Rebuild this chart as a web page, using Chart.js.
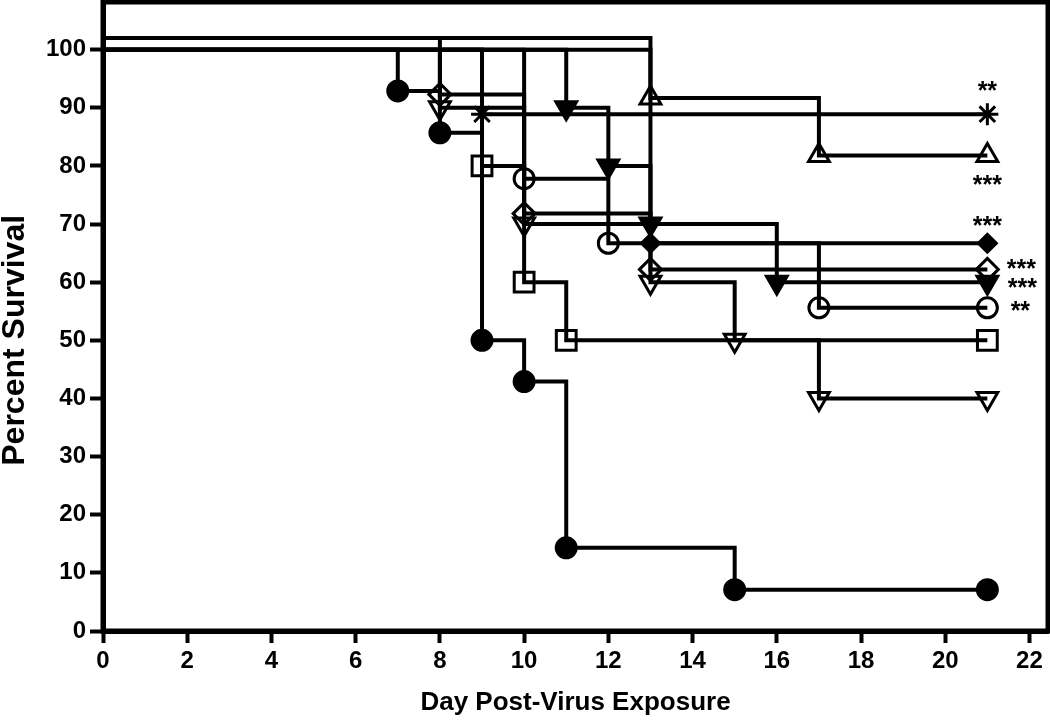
<!DOCTYPE html>
<html>
<head>
<meta charset="utf-8">
<script src="https://cdn.jsdelivr.net/npm/chart.js@4.4.1/dist/chart.umd.min.js"></script>
<style>
  html, body { margin: 0; padding: 0; background: #fff; }
</style>
</head>
<body>
<canvas id="survivalChart" width="1050" height="723"></canvas>
<script>
// Kaplan-Meier style survival, one pair of arrays per group (day, percent survival)
var closedCircleDays = [0, 7, 8, 9, 10, 11, 15, 21];
var closedCircleSurv = [100, 92.9, 85.7, 50, 42.9, 14.3, 7.1, 7.1];

var asteriskDays = [0, 9, 21];
var asteriskSurv = [100, 88.9, 88.9];

var openTriUpDays = [0, 13, 17, 21];
var openTriUpSurv = [102, 91.7, 81.8, 81.8];

var closedTriDownDays = [0, 11, 12, 13, 16, 21];
var closedTriDownSurv = [100, 90, 80, 70, 60, 60];

var openCircleDays = [0, 10, 12, 17, 21];
var openCircleSurv = [100, 77.8, 66.7, 55.6, 55.6];

var openSquareDays = [0, 9, 10, 11, 21];
var openSquareSurv = [100, 80, 60, 50, 50];

var openDiamondDays = [0, 8, 10, 13, 21];
var openDiamondSurv = [102, 92.3, 71.8, 62.2, 62.2];

var openTriDownDays = [0, 8, 10, 13, 15, 17, 21];
var openTriDownSurv = [100, 90, 70, 60, 50, 40, 40];

var closedDiamondDays = [0, 13, 21];
var closedDiamondSurv = [100, 66.7, 66.7];

// significance marks and the dataset (index below) they sit next to
var starLabels = ['**', '***', '***', '***', '***', '**'];
var starSeries = [1, 2, 8, 6, 3, 4];

var xTitle = 'Day Post-Virus Exposure';
var yTitle = 'Percent Survival';

function toPoints(days, surv) {
    return days.map(function(d, i) { return {x: d, y: surv[i]}; });
}

function group(days, surv, style, radius, filled, rotation) {
    return {
        data: toPoints(days, surv),
        stepped: true,
        fill: false,
        borderColor: '#000',
        borderWidth: 4,
        pointStyle: style,
        pointRadius: function(c) { return c.dataIndex === 0 ? 0 : radius; },
        pointBackgroundColor: filled ? '#000' : 'rgba(0,0,0,0)',
        pointBorderColor: '#000',
        pointBorderWidth: 3,
        pointRotation: rotation || 0,
        clip: false
    };
}

var fontFamily = '"Liberation Sans", Arial, Helvetica, sans-serif';

var starOffsets = [[0, -29], [0, 24], [0, -23], [34, -6], [35, 0], [33, -3]];

var extras = {
    id: 'extras',
    afterDatasetsDraw: function(chart) {
        var ctx = chart.ctx;
        var a = chart.chartArea;
        ctx.save();
        ctx.strokeStyle = '#000';
        ctx.lineWidth = 5;
        ctx.strokeRect(a.left, a.top, a.right - a.left, a.bottom - a.top);

        ctx.fillStyle = '#000';
        ctx.font = 'bold 25px ' + fontFamily;
        ctx.textAlign = 'center';
        ctx.textBaseline = 'alphabetic';
        starLabels.forEach(function(txt, i) {
            var pts = chart.getDatasetMeta(starSeries[i]).data;
            var p = pts[pts.length - 1];
            ctx.fillText(txt, p.x + starOffsets[i][0], p.y + starOffsets[i][1] + 14);
        });

        // y title is centred on the 0-100 span, not the whole axis
        var ys = chart.scales.y;
        ctx.translate(15, ys.getPixelForValue(50));
        ctx.rotate(-Math.PI / 2);
        ctx.font = 'bold 32px ' + fontFamily;
        ctx.textBaseline = 'middle';
        ctx.fillText(yTitle, 0, 0);
        ctx.restore();
    }
};

var ctx = document.getElementById('survivalChart').getContext('2d');
var survivalChart = new Chart(ctx, {
    type: 'line',
    data: {
        datasets: [
            group(closedCircleDays, closedCircleSurv, 'circle', 10, true),
            group(asteriskDays, asteriskSurv, 'star', 11, false),
            group(openTriUpDays, openTriUpSurv, 'triangle', 12, false),
            group(closedTriDownDays, closedTriDownSurv, 'triangle', 12, true, 180),
            group(openCircleDays, openCircleSurv, 'circle', 10, false),
            group(openSquareDays, openSquareSurv, 'rect', 14, false),
            group(openDiamondDays, openDiamondSurv, 'rectRot', 11, false),
            group(openTriDownDays, openTriDownSurv, 'triangle', 12, false, 180),
            group(closedDiamondDays, closedDiamondSurv, 'rectRot', 9, true)
        ]
    },
    options: {
        responsive: false,
        animation: false,
        devicePixelRatio: 1,
        events: [],
        layout: { autoPadding: false, padding: { top: 2, right: 2, left: 0, bottom: 0 } },
        plugins: {
            legend: { display: false },
            tooltip: { enabled: false }
        },
        scales: {
            x: {
                type: 'linear',
                min: 0,
                max: 22.44,
                afterFit: function(scale) {
                    scale.height = 92;
                    scale.paddingLeft = 0;
                    scale.paddingRight = 0;
                },
                ticks: {
                    stepSize: 2,
                    includeBounds: false,
                    color: '#000',
                    padding: 4,
                    maxRotation: 0,
                    font: { family: fontFamily, weight: 'bold', size: 24 }
                },
                grid: { drawOnChartArea: false, drawTicks: true, tickLength: 12, tickWidth: 4, tickColor: '#000' },
                border: { display: true, color: '#000', width: 5 },
                title: {
                    display: true,
                    text: xTitle,
                    color: '#000',
                    padding: { top: 0, bottom: 5 },
                    font: { family: fontFamily, weight: 'bold', size: 26 }
                }
            },
            y: {
                type: 'linear',
                min: 0,
                max: 108.2,
                afterFit: function(scale) {
                    scale.width = 103;
                    scale.paddingTop = 0;
                    scale.paddingBottom = 0;
                },
                ticks: {
                    stepSize: 10,
                    includeBounds: false,
                    color: '#000',
                    padding: 4,
                    font: { family: fontFamily, weight: 'bold', size: 24 }
                },
                grid: { drawOnChartArea: false, drawTicks: true, tickLength: 13, tickWidth: 4, tickColor: '#000' },
                border: { display: true, color: '#000', width: 5 }
            }
        }
    },
    plugins: [extras]
});
</script>
</body>
</html>
